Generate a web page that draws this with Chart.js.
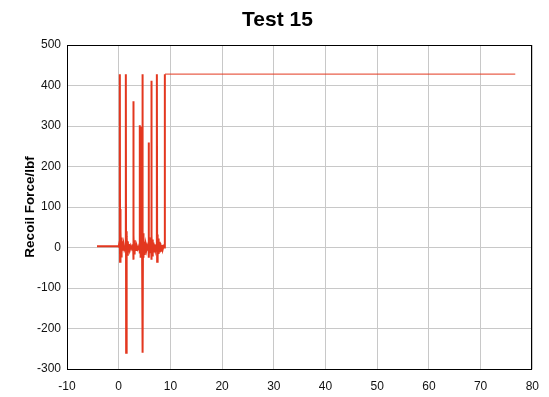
<!DOCTYPE html>
<html>
<head>
<meta charset="utf-8">
<script src="https://cdn.jsdelivr.net/npm/chart.js@4.4.1/dist/chart.umd.min.js"></script>
<style>
html,body{margin:0;padding:0;background:#fff;}
#wrap{width:549px;height:397px;}
</style>
</head>
<body>
<div id="wrap"><canvas id="c" width="549" height="397"></canvas></div>
<script>
const chartTitle = "Test 15";
const yTitle = "Recoil Force/lbf";
const xTicks = [-10, 0, 10, 20, 30, 40, 50, 60, 70, 80];
const yTicks = [-300, -200, -100, 0, 100, 200, 300, 400, 500];

const timeS = [
  -4.2, -0.1,
  0.0, 0.18, 0.22, 0.26, 0.3, 0.34, 0.4, 0.46, 0.52, 0.6, 0.7, 0.8, 0.95, 1.1, 1.3,
  1.36, 1.4, 1.44, 1.48, 1.53, 1.6, 1.68, 1.76, 1.86, 1.98, 2.15, 2.35, 2.55, 2.72,
  2.78, 2.82, 2.86, 2.9, 2.96, 3.04, 3.12, 3.22, 3.35, 3.5, 3.7, 3.9,
  4.02, 4.06, 4.1, 4.14, 4.18, 4.24, 4.3, 4.36, 4.44, 4.52,
  4.58, 4.62, 4.66, 4.7, 4.76, 4.83, 4.9, 4.98, 5.08, 5.2, 5.35, 5.5, 5.65,
  5.76, 5.8, 5.84, 5.9, 5.96, 6.04, 6.12, 6.2,
  6.26, 6.3, 6.34, 6.4, 6.46, 6.54, 6.62, 6.72, 6.84, 6.96, 7.1, 7.25,
  7.36, 7.4, 7.44, 7.5, 7.56, 7.64, 7.72, 7.82, 7.94, 8.06, 8.2, 8.35, 8.5, 8.65, 8.8,
  8.9, 8.95, 76.7
];
const forceLbf = [
  3, 3,
  2, 15, 428, -35, 95, -30, 40, -22, 25, -12, 15, -8, 8, -5, 2,
  10, 428, -260, 40, -30, 28, -18, 15, -10, 8, -6, 4, -3, 2,
  8, 361, -30, 30, -15, 18, -10, 10, -6, 4, -4, 2,
  8, 302, -15, 298, -25, 22, -14, 12, -8, 6,
  10, 428, -260, 35, -25, 25, -16, 14, -10, 8, -6, 4, -3,
  6, 259, -25, 25, -14, 15, -10, 6,
  8, 412, -30, 30, -20, 20, -14, 12, -10, 8, -6, 4,
  8, 428, -35, 32, -22, 22, -16, 14, -12, 10, -8, 6, -5, 3, 0,
  0, 428, 428
];

const points = timeS.map((t, i) => ({ x: t, y: forceLbf[i] }));

const frameBox = {
  id: 'frameBox',
  afterDraw(chart) {
    const a = chart.chartArea, ctx = chart.ctx;
    ctx.save();
    ctx.strokeStyle = '#000';
    ctx.lineWidth = 1;
    ctx.strokeRect(Math.round(a.left) + 0.5, Math.round(a.top) + 0.5,
                   Math.round(a.right - a.left) - 1, Math.round(a.bottom - a.top));
    ctx.restore();
  }
};

new Chart(document.getElementById('c'), {
  type: 'scatter',
  data: {
    datasets: [{
      data: points,
      showLine: true,
      borderColor: '#e3371f',
      borderWidth: 2,
      pointRadius: 0,
      tension: 0,
      segment: {
        borderWidth: ctx => (ctx.p0.parsed.x > 8.92 ? 1.3 : 2),
        borderColor: ctx => (ctx.p0.parsed.x > 8.92 ? 'rgba(227,55,31,0.8)' : '#e3371f')
      }
    }]
  },
  options: {
    responsive: false,
    animation: false,
    devicePixelRatio: 1,
    layout: { padding: { left: 22, right: 16, top: 0, bottom: 0 } },
    plugins: {
      legend: { display: false },
      tooltip: { enabled: false },
      title: {
        display: true,
        text: chartTitle,
        color: '#000',
        font: { family: 'Liberation Sans, Arial, sans-serif', size: 21, weight: 'bold' },
        padding: { top: 7.4, bottom: 12.4 }
      }
    },
    scales: {
      x: {
        type: 'linear',
        min: -10, max: 80,
        afterFit(s) { s.height = 28; },
        afterBuildTicks(s) { s.ticks = xTicks.map(v => ({ value: v })); },
        grid: { color: '#c8c8c8', lineWidth: 1, drawTicks: false },
        border: { display: false },
        ticks: {
          color: '#111',
          padding: 10,
          font: { family: 'Liberation Sans, Arial, sans-serif', size: 12 },
          maxRotation: 0
        }
      },
      y: {
        type: 'linear',
        min: -300, max: 500,
        afterFit(s) { s.width = 45; },
        afterBuildTicks(s) { s.ticks = yTicks.map(v => ({ value: v })); },
        grid: { color: '#c8c8c8', lineWidth: 1, drawTicks: false },
        border: { display: false },
        ticks: {
          color: '#111',
          padding: 6,
          font: { family: 'Liberation Sans, Arial, sans-serif', size: 12 }
        },
        title: {
          display: true,
          text: yTitle,
          color: '#000',
          font: { family: 'Liberation Sans, Arial, sans-serif', size: 13.5, weight: 'bold' },
          padding: 0
        }
      }
    }
  },
  plugins: [frameBox]
});
</script>
</body>
</html>
